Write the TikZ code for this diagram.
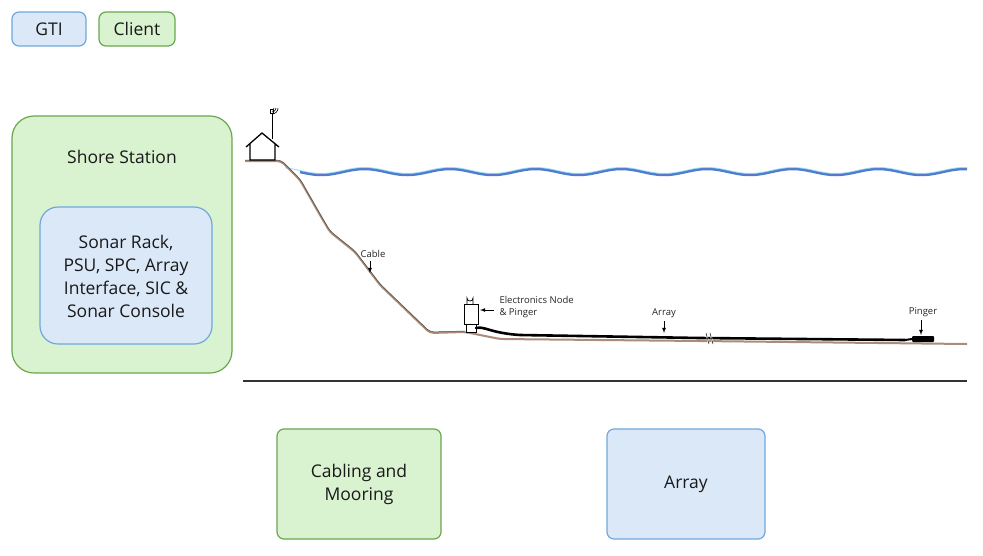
\documentclass[tikz,border=0pt]{standalone}
\usepackage{fontspec}
\setmainfont{Open Sans}
\definecolor{gtifill}{RGB}{218,232,248}
\definecolor{gtidraw}{RGB}{111,168,220}
\definecolor{clifill}{RGB}{217,242,208}
\definecolor{clidraw}{RGB}{106,168,79}
\definecolor{wave}{RGB}{40,90,190}
\definecolor{bed}{RGB}{170,140,120}
\begin{document}
\begin{tikzpicture}[x=1pt,y=-1pt,
  gti/.style={draw=gtidraw, fill=gtifill, line width=1.2pt, rounded corners=7pt},
  cli/.style={draw=clidraw, fill=clifill, line width=1.2pt, rounded corners=7pt},
  big/.style={font=\fontsize{17.5}{23}\selectfont, align=center, text=black!90},
  small/.style={font=\fontsize{9.5}{12}\selectfont, align=left, text=black!85},
  arr/.style={-latex, line width=0.8pt}]
\useasboundingbox (0,0) rectangle (983,555);
\fill[white] (0,0) rectangle (983,555);
\node[gti, minimum width=74, minimum height=34, big] (g) at (49,29) {GTI};
\node[cli, minimum width=76, minimum height=34, big] (c) at (137,29) {Client};
\draw[cli, rounded corners=22pt] (12,116) rectangle (232,373);
\node[big] (ss) at (122,157) {Shore Station};
\draw[gti, rounded corners=18pt] (40,207) rectangle (212,344);
\node[big] (sr) at (126,276) {Sonar Rack,\\PSU, SPC, Array\\Interface, SIC \&\\Sonar Console};
\node[cli, minimum width=164, minimum height=110, big] (cm) at (359,484) {Cabling and\\Mooring};
\node[gti, minimum width=158, minimum height=110, big] (ar) at (686,484) {Array};
\draw[line width=1.2pt, black!80] (243,381) -- (967,381);
% waves
\draw[line width=2.5pt, wave, opacity=0.8, domain=300:967, samples=200, smooth]
  plot (\x, {172+3*sin(4.2*(\x-300))});
\draw[line width=1pt, cyan!60, opacity=0.6, domain=285:967, samples=200, smooth]
  plot (\x, {170.5+3*sin(4.2*(\x-300))});
% seabed / cable
\draw[line width=2pt, bed, rounded corners=4pt] (245,161) -- (281,161) -- (300,180) -- (320,215) -- (330,232) -- (355,252) -- (380,285) -- (430,333) -- (465,332) -- (500,339) -- (700,341) -- (967,344);
\draw[line width=0.5pt, black!70, rounded corners=4pt] (245,160) -- (281,160) -- (300,179) -- (320,214) -- (330,231) -- (355,251) -- (380,284) -- (430,332) -- (465,331);
% house
\draw[line width=1.3pt] (246,147) -- (262,133) -- (279,147) (250,144) -- (250,160) -- (275,160) -- (275,144);
\draw[line width=1pt] (272,139) -- (272,113);
\draw[line width=0.7pt] (270.5,109) rectangle (273.5,113);
\draw[line width=0.6pt] (274,108) arc (0:90:2) (276,108) arc (0:90:4) (278,108) arc (0:90:6);
% electronics node
\draw[line width=0.8pt, fill=white] (464,304) rectangle (478,324);
\draw[line width=0.8pt, fill=white] (466,324) rectangle (476,332);
\draw[line width=0.7pt] (467,304) -- (467,298) arc (180:0:3) -- (473,304);
% array
\draw[line width=2.6pt, line cap=round] (476,328) .. controls (485,326) and (490,333) .. (520,335) -- (700,338) -- (905,340);
\fill[black, rounded corners=1pt] (912,336) rectangle (934,342);
\draw[line width=2pt] (905,340) -- (912,339);
\draw[white, line width=1.5pt] (706,333) -- (709,344) (710,333) -- (713,344);
\draw[line width=0.5pt] (706,333) -- (709,344) (710,333) -- (713,344);
% labels
\node[small] (cl) at (373,254) {Cable};
\coordinate (clp) at (370,273);
\draw[arr] (cl.south -| clp) -- (clp);
\node[small, anchor=west] (en) at (496,307) {Electronics Node\\\& Pinger};
\coordinate (enp) at (480,310);
\draw[arr] (494,310) -- (enp);
\node[small] (al) at (664,313) {Array};
\coordinate (alp) at (664,333);
\draw[arr] (al.south) -- (alp);
\node[small] (pl) at (923,312) {Pinger};
\coordinate (plp) at (921,335);
\draw[arr] (pl.south -| plp) -- (plp);
\end{tikzpicture}
\end{document}
